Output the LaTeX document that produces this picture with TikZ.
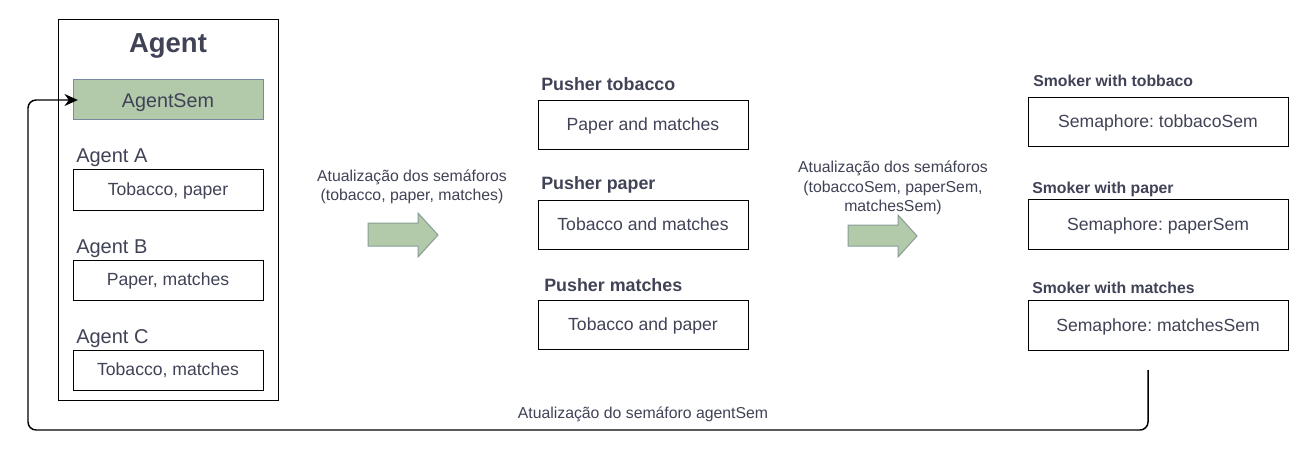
\documentclass[tikz,border=0pt]{standalone}
\usepackage{fontspec}
\setmainfont{Liberation Sans}
\usetikzlibrary{arrows.meta, positioning}
\definecolor{txtgray}{RGB}{64,66,86}
\definecolor{semgreen}{RGB}{178,201,170}
\definecolor{semborder}{RGB}{120,136,160}
\definecolor{arrowborder}{RGB}{135,158,150}
\frenchspacing
\tikzset{
  itembox/.style={draw=black, line width=0.75pt, text=txtgray, inner sep=0pt,
    text height=0.86em, text depth=0pt, font=\fontsize{13.2}{15}\selectfont},
  agentbox/.style={itembox, minimum width=142.5pt, minimum height=30pt},
  pusherbox/.style={itembox, minimum width=157.5pt, minimum height=37pt},
  smokerbox/.style={itembox, minimum width=195pt, minimum height=37pt},
  sublabel/.style={anchor=base west, inner sep=0pt, text=txtgray, font=\fontsize{15}{18}\selectfont},
  headlabel/.style={anchor=base west, inner sep=0pt, text=txtgray, font=\bfseries\fontsize{13.4}{16}\selectfont},
  smokerlabel/.style={headlabel, font=\bfseries\fontsize{11.85}{14}\selectfont},
  caption/.style={inner sep=0pt, align=center, text=txtgray, font=\fontsize{11.85}{14.5}\selectfont},
  blockarrow/.style={draw=arrowborder, fill=semgreen, line width=0.75pt},
}
\begin{document}
\begin{tikzpicture}[x=0.75pt, y=-0.75pt]
\useasboundingbox (0,0) rectangle (1309,474);
% agent
\node[draw=black, line width=0.75pt, minimum width=165pt, minimum height=285pt] (agent) at (168,210) {};
\node[anchor=base, inner sep=0pt, text=txtgray, font=\bfseries\fontsize{20.6}{24}\selectfont] (agenttitle) at (168,53) {Agent};
\node[agentbox, draw=semborder, fill=semgreen, font=\fontsize{14.8}{17}\selectfont, text height=1.1em] (agentsem) at (168,100) {AgentSem};
\foreach \name/\txt/\y in {A/{Tobacco, paper}/190, B/{Paper, matches}/280, C/{Tobacco, matches}/370} {
  \node[sublabel] (lab\name) at (76,\y-27) {Agent \name};
  \node[agentbox] (agent\name) at (168,\y) {\txt};
}
% pushers
\node[headlabel] (labpusht) at (541,91) {Pusher tobacco};
\node[pusherbox] (pushert) at (643,125) {Paper and matches};
\node[headlabel] (labpushp) at (541,190) {Pusher paper};
\node[pusherbox] (pusherp) at (643,225) {Tobacco and matches};
\node[headlabel] (labpushm) at (544,291) {Pusher matches};
\node[pusherbox] (pusherm) at (643,325) {Tobacco and paper};
% smokers
\node[smokerlabel] (labsmokt) at (1033,87) {Smoker with tobbaco};
\node[smokerbox] (smokert) at (1158,122) {Semaphore: tobbacoSem};
\node[smokerlabel] (labsmokp) at (1032,193) {Smoker with paper};
\node[smokerbox] (smokerp) at (1158,224.5) {Semaphore: paperSem};
\node[smokerlabel] (labsmokm) at (1032,293) {Smoker with matches};
\node[smokerbox] (smokerm) at (1158,325.5) {Semaphore: matchesSem};
% updates
\node[caption] (update1) at (412,187) {Atualização dos semáforos\\(tobacco, paper, matches)};
\draw[blockarrow] (368,223)--(418,223)--(418,213)--(438,235)--(418,257)--(418,246)--(368,246)--cycle;
\node[caption] (update2) at (893,188) {Atualização dos semáforos\\(tobaccoSem, paperSem,\\matchesSem)};
\draw[blockarrow] (848,225)--(898,225)--(898,215)--(917,236)--(898,257)--(898,246)--(848,246)--cycle;
% feedback
\coordinate (loopstart) at (1148,370);
\coordinate (loopcorner) at (28,430);
\draw[-{Stealth[length=10pt, width=9pt]}, line width=1.1pt, rounded corners=6pt]
  (loopstart) |- (loopcorner) |- ([xshift=4pt]agentsem.west);
\node[caption, anchor=base] (loopcap) at (643,418) {Atualização do semáforo agentSem};
\end{tikzpicture}
\end{document}
